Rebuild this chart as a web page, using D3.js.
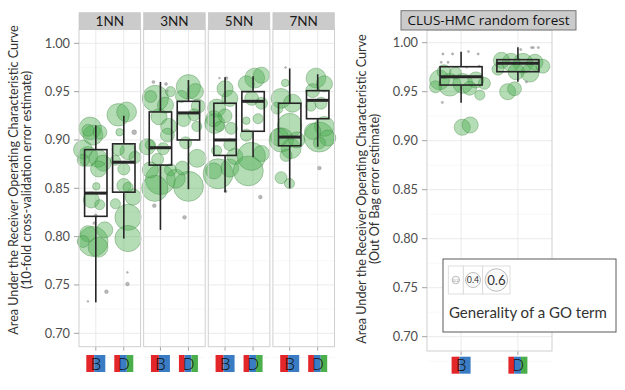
<!DOCTYPE html>
<html>
<head>
<meta charset="utf-8">
<script src="https://cdn.jsdelivr.net/npm/d3@7"></script>
<style>
	body { margin: 0; background: #fff; }
	svg { display: block; font-family: Lato, "Open Sans", sans-serif; }
</style>
</head>
<body>
<svg id="chart" width="625" height="390"></svg>
<script>
'use strict';

var models = ['1NN', '3NN', '5NN', '7NN'];
var ontologies = ['B', 'D'];
var yTicks = [0.70, 0.75, 0.80, 0.85, 0.90, 0.95, 1.00];
var sizeBreaks = [0.2, 0.4, 0.6];

// [min, q1, median, q3, max] : 1NN-B, 1NN-D, 3NN-B, 3NN-D, ...
var knnBoxStats = [
	[0.732, 0.821, 0.845, 0.890, 0.915],
	[0.798, 0.846, 0.877, 0.896, 0.925],
	[0.807, 0.874, 0.892, 0.929, 0.960],
	[0.849, 0.900, 0.928, 0.940, 0.962],
	[0.846, 0.884, 0.900, 0.938, 0.965],
	[0.882, 0.909, 0.940, 0.950, 0.966],
	[0.850, 0.894, 0.903, 0.938, 0.974],
	[0.893, 0.922, 0.941, 0.951, 0.968]
];
var rfBoxStats = [
	[0.9388, 0.9568, 0.9653, 0.9755, 0.9908],
	[0.9602, 0.9704, 0.9790, 0.9827, 0.9953]
];

// bubbles : [jitter, auc, generality]
var knn1B = [[-0.10, 0.795, 0.80], [-0.28, 0.803, 0.43], [0.32, 0.807, 0.43], [-0.45, 0.795, 0.32],
	[0.08, 0.789, 0.53], [-0.28, 0.883, 0.53], [0.08, 0.881, 0.48], [0.26, 0.876, 0.43],
	[-0.45, 0.879, 0.32], [-0.10, 0.905, 0.53], [-0.28, 0.910, 0.32], [0.15, 0.908, 0.37],
	[-0.20, 0.912, 0.60], [0.02, 0.852, 0.20], [0.14, 0.833, 0.27], [-0.16, 0.838, 0.43],
	[-0.46, 0.890, 0.50], [0.10, 0.870, 0.43], [-0.05, 0.814, 0.08], [0.38, 0.743, 0.10],
	[-0.28, 0.733, 0.05], [0.00, 0.822, 0.08]];
var knn1D = [[-0.20, 0.926, 0.60], [0.10, 0.929, 0.53], [-0.15, 0.908, 0.20], [0.37, 0.908, 0.13],
	[-0.20, 0.890, 0.32], [0.15, 0.888, 0.43], [0.40, 0.882, 0.32], [-0.30, 0.879, 0.27],
	[0.00, 0.853, 0.37], [0.15, 0.851, 0.27], [-0.30, 0.834, 0.27], [0.15, 0.820, 0.70],
	[0.33, 0.841, 0.43], [0.15, 0.798, 0.70], [0.00, 0.870, 0.32], [0.13, 0.763, 0.05],
	[0.13, 0.751, 0.10]];
var knn3B = [[-0.18, 0.943, 0.70], [0.18, 0.936, 0.43], [-0.35, 0.945, 0.32], [0.36, 0.950, 0.27],
	[-0.05, 0.924, 0.43], [0.30, 0.914, 0.43], [-0.36, 0.895, 0.27], [0.10, 0.891, 0.32],
	[-0.10, 0.880, 0.32], [0.00, 0.859, 0.80], [-0.36, 0.869, 0.43], [0.36, 0.869, 0.32],
	[-0.20, 0.850, 0.70], [0.25, 0.905, 0.37], [-0.47, 0.893, 0.43], [-0.22, 0.832, 0.10],
	[-0.25, 0.960, 0.08], [0.20, 0.958, 0.08], [0.25, 0.951, 0.05]];
var knn3D = [[0.00, 0.955, 0.65], [0.25, 0.950, 0.43], [-0.25, 0.945, 0.32], [-0.17, 0.921, 0.37],
	[0.20, 0.926, 0.32], [0.30, 0.914, 0.27], [-0.10, 0.897, 0.32], [0.31, 0.881, 0.48],
	[-0.22, 0.871, 0.37], [0.00, 0.852, 0.80], [-0.45, 0.860, 0.50], [0.35, 0.935, 0.37],
	[-0.14, 0.820, 0.10]];
var knn5B = [[0.00, 0.953, 0.43], [0.17, 0.943, 0.43], [-0.30, 0.933, 0.48], [-0.40, 0.922, 0.43],
	[0.22, 0.912, 0.32], [-0.20, 0.914, 0.27], [0.17, 0.895, 0.32], [-0.30, 0.889, 0.27],
	[-0.25, 0.865, 0.80], [0.17, 0.871, 0.48], [-0.40, 0.868, 0.43], [0.00, 0.925, 0.37],
	[0.35, 0.883, 0.43], [-0.37, 0.917, 0.53], [-0.20, 0.964, 0.05], [0.05, 0.964, 0.08],
	[0.02, 0.847, 0.08]];
var knn5D = [[0.06, 0.964, 0.53], [-0.24, 0.958, 0.43], [0.30, 0.967, 0.43], [-0.05, 0.943, 0.37],
	[0.30, 0.938, 0.32], [0.18, 0.922, 0.27], [-0.24, 0.920, 0.20], [-0.24, 0.905, 0.32],
	[-0.06, 0.883, 0.75], [0.30, 0.886, 0.43], [-0.17, 0.868, 0.80], [0.26, 0.841, 0.10]];
var knn7B = [[-0.15, 0.975, 0.05], [-0.16, 0.959, 0.20], [-0.31, 0.943, 0.53], [0.10, 0.938, 0.48],
	[-0.45, 0.933, 0.32], [0.00, 0.915, 0.65], [-0.37, 0.903, 0.48], [0.25, 0.900, 0.43],
	[0.05, 0.891, 0.53], [-0.13, 0.884, 0.32], [-0.31, 0.861, 0.32], [-0.01, 0.855, 0.27],
	[-0.30, 0.900, 0.65]];
var knn7D = [[-0.06, 0.964, 0.53], [0.24, 0.958, 0.43], [-0.18, 0.951, 0.37], [0.12, 0.938, 0.32],
	[-0.24, 0.935, 0.27], [0.24, 0.914, 0.53], [-0.18, 0.909, 0.43], [0.36, 0.902, 0.43],
	[0.06, 0.897, 0.32], [0.05, 0.903, 0.80], [0.06, 0.871, 0.10]];
var rfB = [[-0.38, 0.962, 0.53], [-0.20, 0.957, 0.60], [0.03, 0.9585, 0.53], [0.26, 0.962, 0.43],
	[0.41, 0.9585, 0.32], [-0.30, 0.9704, 0.37], [-0.10, 0.969, 0.32], [0.15, 0.9535, 0.37],
	[-0.45, 0.955, 0.32], [0.33, 0.9466, 0.27], [0.02, 0.9137, 0.43], [0.16, 0.916, 0.43],
	[-0.32, 0.9885, 0.06], [-0.15, 0.9885, 0.06], [0.13, 0.991, 0.06], [0.30, 0.9885, 0.06],
	[-0.35, 0.980, 0.06], [-0.23, 0.980, 0.06], [0.32, 0.976, 0.06], [-0.33, 0.939, 0.06],
	[0.10, 0.975, 0.05], [-0.05, 0.965, 0.05]];
var rfD = [[-0.29, 0.982, 0.43], [-0.12, 0.980, 0.48], [0.09, 0.979, 0.53], [0.30, 0.980, 0.43],
	[0.44, 0.976, 0.37], [-0.35, 0.973, 0.32], [-0.03, 0.9704, 0.43], [0.21, 0.969, 0.48],
	[-0.18, 0.950, 0.43], [-0.06, 0.953, 0.37], [0.24, 0.995, 0.06], [0.27, 0.995, 0.06],
	[0.36, 0.995, 0.06], [0.05, 0.993, 0.06], [0.15, 0.960, 0.06]];

var knnBubbles = [knn1B, knn1D, knn3B, knn3D, knn5B, knn5D, knn7B, knn7D];
var rfBubbles = [rfB, rfD];

var svg = d3.select('#chart');
var sizeScale = d3.scaleLinear().domain([0, 0.8]).range([0, 15]);
// colour strips of the ontology badges : [start, end, colour] as fractions of the width
var badgeStrips = {
	B: [[0, 0.42, '#e3262a'], [0.42, 1, '#3a7cc4']],
	D: [[0, 0.3, '#e3262a'], [0.3, 0.66, '#3a7cc4'], [0.66, 1, '#4aae4a']]
};

var drawGrid = function (g, x, y, x0, x1, y0, y1) {
	var minors = d3.range(0.675, 1.01, 0.05);
	g.selectAll('.minor').data(minors).enter().append('line')
		.attr('x1', x0).attr('x2', x1)
		.attr('y1', function (d) { return y(d); }).attr('y2', function (d) { return y(d); })
		.attr('stroke', '#f4f4f4').attr('stroke-width', 0.6);
	g.selectAll('.major').data(yTicks).enter().append('line')
		.attr('x1', x0).attr('x2', x1)
		.attr('y1', function (d) { return y(d); }).attr('y2', function (d) { return y(d); })
		.attr('stroke', '#e8e8e8').attr('stroke-width', 0.9);
	g.selectAll('.vmajor').data([1, 2]).enter().append('line')
		.attr('x1', function (d) { return x(d); }).attr('x2', function (d) { return x(d); })
		.attr('y1', y0).attr('y2', y1)
		.attr('stroke', '#e8e8e8').attr('stroke-width', 0.9);
	// x ticks under the panel
	g.selectAll('.xtick').data([1, 2]).enter().append('line')
		.attr('x1', function (d) { return x(d); }).attr('x2', function (d) { return x(d); })
		.attr('y1', y1).attr('y2', y1 + 4)
		.attr('stroke', '#999').attr('stroke-width', 0.9);
};

var drawBubbles = function (g, x, y, pts, cat) {
	g.append('g').selectAll('circle')
		.data(pts.slice().sort(function (a, b) { return b[2] - a[2]; }))
		.enter().append('circle')
		.attr('cx', function (d) { return x(cat + d[0]); })
		.attr('cy', function (d) { return y(d[1]); })
		.attr('r', function (d) { return sizeScale(d[2]); })
		.attr('fill', function (d) { return d[2] < 0.15 ? '#9a9a9a' : '#4caf50'; })
		.attr('fill-opacity', function (d) { return d[2] < 0.15 ? 0.7 : 0.42; })
		.attr('stroke', function (d) { return d[2] < 0.15 ? '#888' : '#3b7d3b'; })
		.attr('stroke-opacity', 0.45).attr('stroke-width', 0.8);
};

var drawBox = function (g, x, y, s, cat, halfWidth) {
	var b = g.append('g').attr('stroke', '#262626').attr('fill', 'none');
	b.append('line').attr('x1', x(cat)).attr('x2', x(cat)).attr('y1', y(s[0])).attr('y2', y(s[1])).attr('stroke-width', 1.6);
	b.append('line').attr('x1', x(cat)).attr('x2', x(cat)).attr('y1', y(s[3])).attr('y2', y(s[4])).attr('stroke-width', 1.6);
	b.append('rect').attr('x', x(cat - halfWidth)).attr('width', x(cat + halfWidth) - x(cat - halfWidth))
		.attr('y', y(s[3])).attr('height', y(s[1]) - y(s[3])).attr('stroke-width', 1.6);
	b.append('line').attr('x1', x(cat - halfWidth)).attr('x2', x(cat + halfWidth))
		.attr('y1', y(s[2])).attr('y2', y(s[2])).attr('stroke-width', 3);
};

var drawLabel = function (g, cx, top, name) {
	var w = 19, h = 17;
	var l = g.append('g').attr('transform', 'translate(' + (cx - w / 2) + ',' + top + ')');
	badgeStrips[name].forEach(function (s) {
		l.append('rect').attr('x', s[0] * w).attr('width', (s[1] - s[0]) * w).attr('height', h).attr('fill', s[2]);
	});
	l.append('text').attr('x', w / 2).attr('y', h - 2.5).attr('text-anchor', 'middle')
		.attr('font-family', '"Open Sans", sans-serif').attr('font-size', 17).attr('font-weight', 300)
		.attr('fill', '#111').text(name);
};

var drawYAxis = function (g, y, right, lines, titleX, titleY) {
	g.selectAll('.ylab').data(yTicks).enter().append('text')
		.attr('x', right - 9).attr('y', function (d) { return y(d) + 4.3; })
		.attr('text-anchor', 'end').attr('font-size', 12.8).attr('fill', '#4d4d4d')
		.text(d3.format('.2f'));
	g.selectAll('.ytick').data(yTicks).enter().append('line')
		.attr('x1', right - 5).attr('x2', right)
		.attr('y1', function (d) { return y(d); }).attr('y2', function (d) { return y(d); })
		.attr('stroke', '#999').attr('stroke-width', 0.9);
	lines.forEach(function (t, i) {
		g.append('text').attr('transform', 'translate(' + titleX[i] + ',' + titleY + ') rotate(-90)')
			.attr('text-anchor', 'middle').attr('font-size', 12.6).attr('fill', '#333').text(t);
	});
};

// ---------- left : kNN ----------
var leftTop = 29.3, leftBottom = 346.7;
var yLeft = d3.scaleLinear().domain([0.70, 1.00]).range([333.3, 43.3]);
var facet = d3.scaleBand().domain(models).range([79, 334.5]).paddingInner(0.047);
var left = svg.append('g');

models.forEach(function (m, mi) {
	var x0 = facet(m), x1 = x0 + facet.bandwidth();
	var x = d3.scaleLinear().domain([0.4, 2.6]).range([x0, x1]);
	var p = left.append('g');
	p.append('rect').attr('x', x0).attr('y', leftTop).attr('width', x1 - x0).attr('height', leftBottom - leftTop).attr('fill', '#fff');
	drawGrid(p, x, yLeft, x0, x1, leftTop, leftBottom);
	ontologies.forEach(function (o, oi) {
		drawBubbles(p, x, yLeft, knnBubbles[mi * 2 + oi], oi + 1);
	});
	ontologies.forEach(function (o, oi) {
		drawBox(p, x, yLeft, knnBoxStats[mi * 2 + oi], oi + 1, 0.4);
		drawLabel(p, x(oi + 1), 355, o);
	});
	p.append('rect').attr('x', x0).attr('y', leftTop).attr('width', x1 - x0).attr('height', leftBottom - leftTop)
		.attr('fill', 'none').attr('stroke', '#cfcfcf').attr('stroke-width', 1);
	p.append('rect').attr('x', x0).attr('y', 12.7).attr('width', x1 - x0).attr('height', leftTop - 12.7)
		.attr('fill', '#cbcbcb').attr('stroke', '#c4c4c4').attr('stroke-width', 0.6);
	p.append('text').attr('x', (x0 + x1) / 2).attr('y', 25.8).attr('text-anchor', 'middle')
		.attr('font-size', 13.5).attr('fill', '#1a1a1a').text(m);
});
drawYAxis(left, yLeft, 79, ['Area Under the Receiver Operating Characteristic Curve',
	'(10-fold cross-validation error estimate)'], [17.5, 30.5], 180);

// ---------- right : random forest ----------
var rTop = 30, rBottom = 351, rX0 = 427, rX1 = 552;
var yRight = d3.scaleLinear().domain([0.70, 1.00]).range([336.7, 42.7]);
var xRight = d3.scaleLinear().domain([0.4, 2.6]).range([rX0, rX1]);
var right = svg.append('g');
right.append('rect').attr('x', rX0).attr('y', rTop).attr('width', rX1 - rX0).attr('height', rBottom - rTop).attr('fill', '#fff');
drawGrid(right, xRight, yRight, rX0, rX1, rTop, rBottom);
ontologies.forEach(function (o, oi) {
	drawBubbles(right, xRight, yRight, rfBubbles[oi], oi + 1);
});
ontologies.forEach(function (o, oi) {
	drawBox(right, xRight, yRight, rfBoxStats[oi], oi + 1, 0.37);
	drawLabel(right, xRight(oi + 1), 356.7, o);
});
right.append('rect').attr('x', rX0).attr('y', rTop).attr('width', rX1 - rX0).attr('height', rBottom - rTop)
	.attr('fill', 'none').attr('stroke', '#cfcfcf').attr('stroke-width', 1);
right.append('rect').attr('x', 401).attr('y', 10.7).attr('width', 175).attr('height', 19.3)
	.attr('fill', '#cbcbcb').attr('stroke', '#6a6a6a').attr('stroke-width', 0.9);
right.append('text').attr('x', 488.5).attr('y', 25.3).attr('text-anchor', 'middle')
	.attr('font-family', '"Open Sans", sans-serif').attr('font-size', 13.5).attr('fill', '#111')
	.text('CLUS-HMC random forest');
drawYAxis(right, yRight, 427, ['Area Under the Receiver Operating Characteristic Curve',
	'(Out Of Bag error estimate)'], [365.5, 378.5], 189);

// ---------- legend ----------
var legend = svg.append('g');
legend.append('rect').attr('x', 443).attr('y', 259).attr('width', 173).attr('height', 73)
	.attr('fill', '#fff').attr('stroke', '#5a5a5a').attr('stroke-width', 1);
var keyEdges = [448.3, 463.3, 482.7, 510];
sizeBreaks.forEach(function (v, i) {
	var kx = keyEdges[i], kw = keyEdges[i + 1] - keyEdges[i];
	legend.append('rect').attr('x', kx).attr('y', 266).attr('width', kw).attr('height', 28)
		.attr('fill', '#fff').attr('stroke', '#d6d6d6').attr('stroke-width', 0.8);
	legend.append('circle').attr('cx', kx + kw / 2).attr('cy', 280).attr('r', sizeScale(v))
		.attr('fill', '#fafafa').attr('stroke', '#b5b5b5').attr('stroke-width', 0.9);
	legend.append('text').attr('x', kx + kw / 2).attr('y', 280 + v * 7.5).attr('text-anchor', 'middle')
		.attr('font-size', v * 22).attr('fill', v < 0.3 ? '#999' : '#333').text(v.toFixed(1));
});
legend.append('text').attr('x', 449).attr('y', 318).attr('font-size', 15).attr('fill', '#333')
	.text('Generality of a GO term');
</script>
</body>
</html>
